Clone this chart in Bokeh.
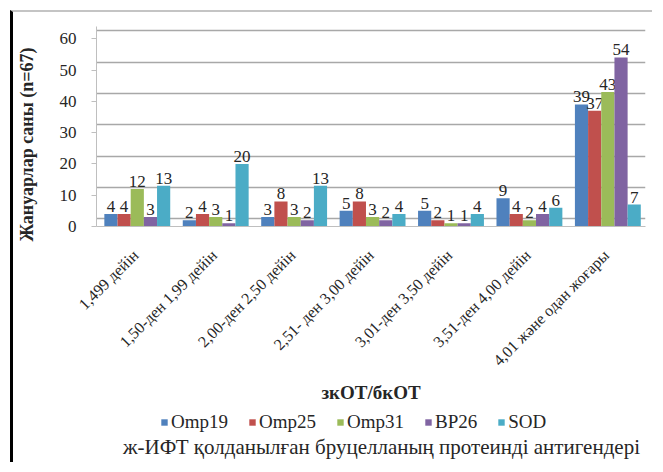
from bokeh.plotting import figure
from bokeh.layouts import column
from bokeh.models import (ColumnDataSource, Range1d, FixedTicker, Legend, LegendItem,
                          Label, Grid)
from bokeh.transform import dodge
from bokeh.core.properties import value
from bokeh.embed import file_html
from bokeh.resources import INLINE
import math

categories = ["1,499 дейін", "1,50-ден 1,99 дейін", "2,00-ден 2,50 дейін",
              "2,51- ден 3,00 дейін", "3,01-ден 3,50 дейін", "3,51-ден 4,00 дейін",
              "4,01 және одан жоғары"]
series_names = ["Omp19", "Omp25", "Omp31", "BP26", "SOD"]
omp19 = [4, 2, 3, 5, 5, 9, 39]
omp25 = [4, 4, 8, 8, 2, 4, 37]
omp31 = [12, 3, 3, 3, 1, 2, 43]
bp26 = [3, 1, 2, 2, 1, 4, 54]
sod = [13, 20, 13, 4, 4, 6, 7]
y_ticks = [0, 10, 20, 30, 40, 50, 60]
colors = ["#4F81BD", "#C0504D", "#9BBB59", "#8064A2", "#4BACC6"]
y_title = "Жануарлар саны (n=67)"
x_title = "зкОТ/бкОТ"
bottom_title = "ж-ИФТ қолданылған бруцелланың протеинді антигендері"

series_values = [omp19, omp25, omp31, bp26, sod]

SERIF = "Liberation Serif"
TXT = "#262626"

data = {"cat": categories}
for name, vals in zip(series_names, series_values):
    data[name] = vals
    data[name + "_lbl"] = [str(v) for v in vals]
src = ColumnDataSource(data)

# ---------------- main chart ----------------
YMAX = 63.9
p = figure(x_range=categories, y_range=Range1d(0, YMAX),
           width=642, height=393,
           output_backend="svg", toolbar_location=None,
           min_border_left=80, min_border_right=10, min_border_top=14,
           min_border_bottom=174)
p.styles = {"border-left": "3px solid #000000", "border-top": "2px solid #c4c4c4"}
p.outline_line_color = None
p.background_fill_color = "white"
p.x_range.range_padding = 0
p.xgrid.grid_line_color = None
p.ygrid.grid_line_color = None

# back-wall gridlines (3D look: drawn slightly higher than the front scale)
p.extra_y_ranges = {"back": Range1d(-2.5, YMAX - 2.5)}
p.add_layout(Grid(dimension=1, ticker=FixedTicker(ticks=y_ticks), y_range_name="back",
                  grid_line_color="#a8a8a8", grid_line_width=1.3))

bw = 0.168
offs = [-0.336, -0.168, 0.0, 0.168, 0.336]
for name, col, off in zip(series_names, colors, offs):
    p.vbar(x=dodge("cat", off + 0.02, range=p.x_range), top=name, width=bw,
           source=src, fill_color=col, line_color=None)
    p.text(x=dodge("cat", off + 0.02, range=p.x_range), y=name, text=name + "_lbl",
           source=src, text_align="center", text_baseline="bottom", y_offset=-2,
           text_font=value(SERIF), text_font_size="17px", text_color=TXT)

# y axis
NB = "\u00a0"
yax = p.yaxis[0]
yax.ticker = FixedTicker(ticks=y_ticks)
yax.axis_label = y_title + NB * 8
yax.axis_label_text_font = SERIF
yax.axis_label_text_font_style = "bold"
yax.axis_label_text_font_size = "18px"
yax.axis_label_text_color = TXT
yax.axis_label_standoff = 20
yax.major_label_text_font = SERIF
yax.major_label_text_font_size = "17px"
yax.major_label_text_color = TXT
yax.major_label_standoff = 15
yax.axis_line_color = "#bfbfbf"
yax.major_tick_line_color = "#bfbfbf"
yax.major_tick_out = 5
yax.major_tick_in = 0
yax.minor_tick_line_color = None

# x axis
xax = p.xaxis[0]
xax.major_label_orientation = math.pi / 4
xax.major_label_text_font = SERIF
xax.major_label_text_font_size = "16px"
xax.major_label_text_color = TXT
xax.major_label_standoff = 20
xax.axis_line_color = "#bfbfbf"
xax.major_tick_line_color = None
xax.axis_label = x_title
xax.axis_label_text_font = SERIF
xax.axis_label_text_font_style = "bold"
xax.axis_label_text_font_size = "19px"
xax.axis_label_text_color = TXT
xax.axis_label_standoff = 4

# ---------------- legend + note strip ----------------
p2 = figure(width=642, height=59, output_backend="svg", toolbar_location=None,
            x_axis_type=None, y_axis_type=None,
            min_border_left=0, min_border_right=0, min_border_top=0, min_border_bottom=0)
p2.styles = {"border-left": "3px solid #000000"}
p2.outline_line_color = None
p2.xgrid.grid_line_color = None
p2.ygrid.grid_line_color = None

# zero-height proxies: they only carry the series colours into the legend
leg_renderers = []
for name, col in zip(series_names, colors):
    leg_renderers.append(p2.vbar(x=[0], top=[0], width=0.5, fill_color=col, line_color=None))

legend = Legend(items=[LegendItem(label=n, renderers=[r]) for n, r in zip(series_names, leg_renderers)],
                orientation="horizontal", location=(64, 29),
                label_text_font=SERIF, label_text_font_size="19px", label_text_color=TXT,
                glyph_width=8, glyph_height=8, label_standoff=3, spacing=20,
                padding=2, margin=0, border_line_color=None, background_fill_alpha=0)
p2.add_layout(legend, "center")

p2.add_layout(Label(x=285, y=16, x_units="screen", y_units="screen", text=bottom_title,
                    text_align="center", text_baseline="middle",
                    text_font=SERIF, text_font_size="21px", text_color=TXT))

layout = column(p, p2, spacing=0, margin=(10, 0, 0, 10))
open("out.html", "w").write(file_html(layout, INLINE))
